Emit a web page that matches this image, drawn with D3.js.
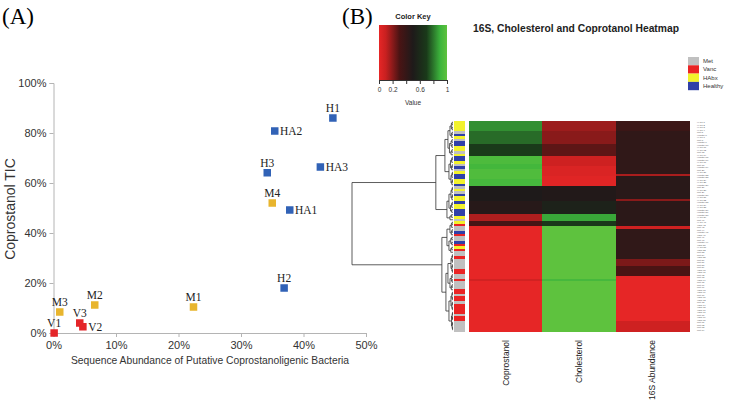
<!DOCTYPE html>
<html>
<head>
<meta charset="utf-8">
<script src="https://cdn.jsdelivr.net/npm/d3@7"></script>
<style>
body{margin:0;background:#fff}
svg{display:block;font-family:"Liberation Sans",Arial,sans-serif}
</style>
</head>
<body>
<svg width="730" height="403"></svg>
<script>
// ---- panel A data ----
const sampleNames = ["H1","H2","H3","HA1","HA2","HA3","M1","M2","M3","M4","V1","V2","V3"];
const seqAbundance = [0.447,0.369,0.342,0.378,0.354,0.427,0.224,0.066,0.010,0.350,0.001,0.047,0.042];
const coprostanolTIC = [0.86,0.18,0.641,0.492,0.808,0.664,0.104,0.112,0.084,0.52,0.0,0.025,0.04];
const sampleType = ["H","H","H","H","H","H","M","M","M","M","V","V","V"];
const xTicks = [0,0.1,0.2,0.3,0.4,0.5];
const yTicks = [0,0.2,0.4,0.6,0.8,1];

// ---- panel B data ----
const heatColumns = ["Coprostanol","Cholesterol","16S Abundance"];
// run-length: [number of rows, scaled value]
const coprostanolRuns = [[4,0.84],[5,0.78],[5,0.7],[3,0.95],[2,0.92],[4,0.96],[3,0.93],[6,0.5],[5,0.46],[3,0.14],[2,0.32],[21,0],[1,0.07],[20,0]];
const cholesterolRuns = [[4,0.17],[5,0.2],[5,0.27],[4,0.08],[4,0.04],[4,0.02],[6,0.48],[5,0.55],[3,0.88],[2,0.68],[21,1],[1,0.93],[20,1]];
const abundanceRuns = [[4,0.37],[17,0.42],[1,0.15],[9,0.45],[1,0.2],[10,0.44],[1,0.08],[12,0.42],[3,0.22],[4,0.3],[18,0],[4,0.08]];
// group of each row, top to bottom (M=Met, V=Vanc, A=HAbx, H=Healthy)
const rowGroups = ("AAAAMHAMHHAAMAHHAMHMAHHAAHMAMHAAHAAHHHAMAV" +
                   "MMHVMMHVAVMMVMMMMVVMMVMMMVVMVVMVVVVMVVMMMM").split("");
const groupNames = {M:"Met", V:"Vanc", A:"HAbx", H:"Healthy"};
const legendGroups = ["M","V","A","H"];
const keyTicks = [0,0.2,0.4,0.6,0.8,1];
const keyLabels = [0,0.2,0.6,1];

// ---- colours ----
const pointColor = {H:"#3162b6", M:"#e8b52e", V:"#e42529"};
const groupColor = {M:"#c0c0c0", V:"#ea2424", A:"#f2f22c", H:"#3040a8"};
const heatColor = d3.scaleLinear()
  .domain([0,0.1,0.3,0.5,0.7,0.9,1])
  .range(["#e62626","#c82020","#4a1414","#1e1a1a","#1a3a1a","#3cb43c","#5ec23e"]);

const svg = d3.select("svg");
svg.append("rect").attr("width",730).attr("height",403).attr("fill","#fff");

// ================= Panel A =================
svg.append("text").attr("x",2).attr("y",24)
  .style("font-family","'Liberation Serif','Times New Roman',serif").style("font-size","23px")
  .text("(A)");

const x = d3.scaleLinear().domain([0,0.5]).range([53.5,366]);
const y = d3.scaleLinear().domain([0,1]).range([333,83]);

const gx = svg.append("g").attr("transform","translate(0,333)")
  .call(d3.axisBottom(x).tickValues(xTicks).tickFormat(d3.format(".0%")).tickSizeOuter(0).tickSize(4).tickPadding(4));
const gy = svg.append("g").attr("transform","translate(53.5,0)")
  .call(d3.axisLeft(y).tickValues(yTicks).tickFormat(d3.format(".0%")).tickSizeOuter(0).tickSize(4).tickPadding(3));
[gx,gy].forEach(g => {
  g.selectAll("path,line").attr("stroke","#b4b4b4");
  g.selectAll("text").attr("fill","#333").style("font-size","11px").style("font-family","'Liberation Sans',Arial,sans-serif");
});

svg.append("text").attr("x",210).attr("y",364).attr("text-anchor","middle")
  .attr("fill","#333").style("font-size","10.3px")
  .text("Sequence Abundance of Putative Coprostanoligenic Bacteria");
svg.append("text").attr("transform","translate(15,209) rotate(-90)").attr("text-anchor","middle")
  .attr("fill","#333").style("font-size","14px").text("Coprostanol TIC");

const labelSide = {H1:"top",H2:"top",H3:"top",HA1:"right",HA2:"right",HA3:"right",
  M1:"top",M2:"top",M3:"top",M4:"top",V1:"top",V2:"right",V3:"top"};
const pts = sampleNames.map((n,i) => ({name:n, xv:seqAbundance[i], yv:coprostanolTIC[i], t:sampleType[i]}));
const sq = 7.5;
svg.append("g").selectAll("rect").data(pts).join("rect")
  .attr("x", d => x(d.xv) - sq/2).attr("y", d => y(d.yv) - sq/2)
  .attr("width", sq).attr("height", sq)
  .attr("fill", d => pointColor[d.t]);
svg.append("g").selectAll("text").data(pts).join("text")
  .style("font-family","'Liberation Serif','Times New Roman',serif").style("font-size","11.5px")
  .attr("fill","#222")
  .attr("x", d => labelSide[d.name] == "right" ? x(d.xv) + sq/2 + 1.5 : x(d.xv))
  .attr("y", d => labelSide[d.name] == "right" ? y(d.yv) + 4 : y(d.yv) - 6)
  .attr("text-anchor", d => labelSide[d.name] == "right" ? "start" : "middle")
  .text(d => d.name);

// ================= Panel B =================
svg.append("text").attr("x",342).attr("y",24)
  .style("font-family","'Liberation Serif','Times New Roman',serif").style("font-size","23px")
  .text("(B)");

// colour key
const kx = d3.scaleLinear().domain([0,1]).range([379,447]);
const grad = svg.append("defs").append("linearGradient").attr("id","keygrad");
grad.selectAll("stop").data(d3.range(0,1.001,0.05)).join("stop")
  .attr("offset", d => d).attr("stop-color", d => heatColor(d));
svg.append("rect").attr("x",kx(0)).attr("y",25).attr("width",kx(1)-kx(0)).attr("height",55)
  .attr("fill","url(#keygrad)");
const gk = svg.append("g").attr("transform","translate(0,80)")
  .call(d3.axisBottom(kx).tickValues(keyTicks).tickSize(4).tickSizeOuter(0)
    .tickFormat(d => keyLabels.includes(d) ? d3.format("")(d) : ""));
gk.selectAll("path,line").attr("stroke","#333");
gk.selectAll("text").attr("fill","#333").style("font-size","6.5px");
svg.append("text").attr("x",413).attr("y",19).attr("text-anchor","middle")
  .style("font-size","7.5px").style("font-weight","bold").attr("fill","#222").text("Color Key");
svg.append("text").attr("x",413).attr("y",105).attr("text-anchor","middle")
  .style("font-size","6.5px").attr("fill","#333").text("Value");

svg.append("text").attr("x",473).attr("y",32)
  .style("font-size","10.3px").style("font-weight","bold").attr("fill","#222")
  .text("16S, Cholesterol and Coprotanol Heatmap");

// group legend
const lg = svg.append("g");
legendGroups.forEach((g,i) => {
  lg.append("rect").attr("x",688).attr("y",57 + i*8.3).attr("width",11).attr("height",8.3)
    .attr("fill",groupColor[g]);
  lg.append("text").attr("x",703).attr("y",63 + i*8.3).style("font-size","6px")
    .attr("fill","#333").text(groupNames[g]);
});

// rows
function expand(runs){ const out = []; runs.forEach(([n,v]) => { for (let k=0;k<n;k++) out.push(v); }); return out; }
const colValues = [expand(coprostanolRuns), expand(cholesterolRuns), expand(abundanceRuns)];
const rows = rowGroups.map((g,i) => ({i, g, label: groupNames[g] + "." + (i+1), vals: colValues.map(c => c[i])}));

const ry = d3.scaleBand().domain(rows.map(r => r.i)).range([121,331]);
const cx = d3.scaleBand().domain(heatColumns).range([469,689]);

// side colour bar
svg.append("g").attr("shape-rendering","crispEdges").selectAll("rect").data(rows).join("rect")
  .attr("x",454).attr("width",11)
  .attr("y", d => ry(d.i)).attr("height", ry.bandwidth() + 0.6)
  .attr("fill", d => groupColor[d.g]);

// heatmap cells
const cells = [];
rows.forEach(r => heatColumns.forEach((c,j) => cells.push({r:r.i, c, v:r.vals[j]})));
svg.append("g").attr("shape-rendering","crispEdges").selectAll("rect").data(cells).join("rect")
  .attr("x", d => cx(d.c)).attr("width", cx.bandwidth() + 0.6)
  .attr("y", d => ry(d.r)).attr("height", ry.bandwidth() + 0.6)
  .attr("fill", d => heatColor(d.v));

// column labels
svg.append("g").selectAll("text").data(heatColumns).join("text")
  .attr("transform", d => `translate(${cx(d) + cx.bandwidth()/2 + 3},340) rotate(-90)`)
  .attr("text-anchor","end").style("font-size","8.5px").attr("fill","#222")
  .text(d => d);

// row labels
svg.append("g").selectAll("text").data(rows).join("text")
  .attr("x",697).attr("y", d => ry(d.i) + ry.bandwidth()*0.85)
  .style("font-size","2.4px").attr("fill","#555")
  .text(d => d.label);

// dendrogram (merge heights)
function N(h,a,b){ return {h, children:[a,b]}; }
function R(a,b,h){
  if (a == b) return {h:0, row:a};
  const m = Math.floor((a+b)/2);
  return {h, children:[R(a,m,h*0.55), R(m+1,b,h*0.55)]};
}
const tree =
  N(100,
    N(17,
      N(8,
        N(5, R(0,6,3), R(7,13,3.5)),
        N(4, R(14,19,2.5), R(20,25,2))),
      N(6,
        N(4, R(26,31,2), R(32,36,2.5)),
        R(37,39,3))),
    N(11,
      N(6, R(40,45,3), R(46,52,4)),
      N(7,
        N(5, R(53,60,2), R(61,67,3)),
        N(4, R(68,75,2), R(76,83,1.5)))));

const hx = d3.scaleLinear().domain([0,100]).range([453,352]);
const root = d3.hierarchy(tree);
root.eachAfter(n => {
  n.px = hx(n.data.h);
  n.py = n.children ? d3.mean(n.children, c => c.py) : ry(n.data.row) + ry.bandwidth()/2;
});
svg.append("g").selectAll("path").data(root.descendants().filter(n => n.children)).join("path")
  .attr("fill","none").attr("stroke","#333").attr("stroke-width",0.8)
  .attr("d", n => {
    const [a,b] = n.children;
    return `M${a.px},${a.py}H${n.px}V${b.py}H${b.px}`;
  });
</script>
</body>
</html>
